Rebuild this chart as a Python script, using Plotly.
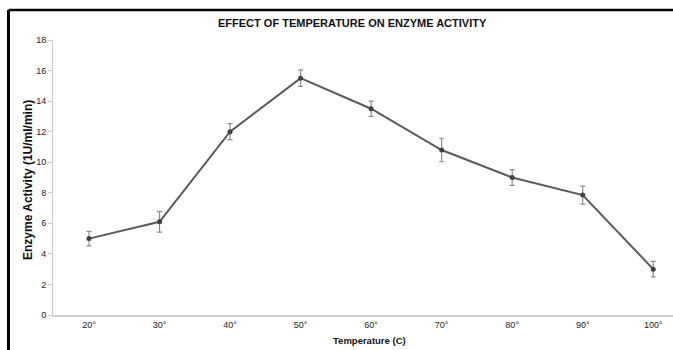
import plotly.graph_objects as go

# Enzyme activity measured at each temperature, with standard error
temperatures = ["20°", "30°", "40°", "50°", "60°", "70°", "80°", "90°", "100°"]
activity = [5.0, 6.1, 12.0, 15.5, 13.5, 10.8, 9.0, 7.85, 3.0]
error = [0.47, 0.67, 0.52, 0.54, 0.5, 0.77, 0.51, 0.59, 0.51]
y_ticks = [0, 2, 4, 6, 8, 10, 12, 14, 16, 18]

FONT = "Liberation Sans, Arial, sans-serif"
W, H = 673, 350
L, R, T, B = 53, 0, 40, 35
PW, PH = W - L - R, H - T - B


def px_to_paper_x(px):
    return (px - L) / PW


def px_to_paper_y(py):
    return (H - B - py) / PH


fig = go.Figure()
fig.add_trace(go.Scatter(
    x=temperatures,
    y=activity,
    mode="lines+markers",
    line=dict(color="#5a5a5a", width=2),
    marker=dict(color="#404040", size=5, symbol="circle"),
    error_y=dict(type="data", array=error, visible=True,
                 color="#8c8c8c", thickness=1.2, width=2.5),
    showlegend=False,
))

fig.update_layout(
    width=W, height=H,
    margin=dict(l=L, r=R, t=T, b=B, pad=0),
    paper_bgcolor="white",
    plot_bgcolor="white",
    font=dict(family=FONT, color="#222222"),
    xaxis=dict(
        type="category",
        range=[-0.51, 8.28],
        showgrid=False, zeroline=False,
        showline=True, linecolor="#cfcfcf", linewidth=2,
        ticks="",
        tickfont=dict(size=9, color="#222222"),
        fixedrange=True,
    ),
    yaxis=dict(
        range=[0, 18],
        tickvals=y_ticks,
        showgrid=False, zeroline=False,
        showline=True, linecolor="#c8c8c8", linewidth=1,
        ticks="outside", ticklen=4, tickcolor="#c8c8c8",
        tickfont=dict(size=9, color="#222222"),
        fixedrange=True,
    ),
    annotations=[
        dict(text="<b>EFFECT OF TEMPERATURE ON ENZYME ACTIVITY</b>",
             xref="paper", yref="paper",
             x=px_to_paper_x(352), y=px_to_paper_y(23),
             xanchor="center", yanchor="middle", showarrow=False,
             font=dict(size=11, color="#111111", family=FONT)),
        dict(text="<b>Enzyme Activity (1U/ml/min)</b>",
             xref="paper", yref="paper",
             x=px_to_paper_x(28), y=px_to_paper_y(180),
             xanchor="center", yanchor="middle", textangle=-90,
             showarrow=False,
             font=dict(size=12, color="#111111", family=FONT)),
        dict(text="<b>Temperature (C)</b>",
             xref="paper", yref="paper",
             x=px_to_paper_x(370), y=px_to_paper_y(340),
             xanchor="center", yanchor="middle", showarrow=False,
             font=dict(size=9.5, color="#111111", family=FONT)),
    ],
    shapes=[
        # frame around the chart (top and left edges)
        dict(type="line", xref="paper", yref="paper",
             x0=px_to_paper_x(8.5), x1=px_to_paper_x(680),
             y0=px_to_paper_y(10), y1=px_to_paper_y(10),
             line=dict(color="black", width=2.5)),
        dict(type="line", xref="paper", yref="paper",
             x0=px_to_paper_x(8.5), x1=px_to_paper_x(8.5),
             y0=px_to_paper_y(10), y1=px_to_paper_y(360),
             line=dict(color="black", width=3)),
    ],
)

fig.write_html("out.html")
